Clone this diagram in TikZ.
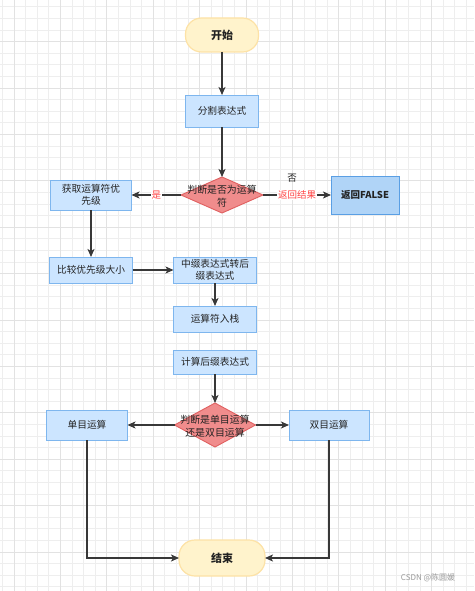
\documentclass[tikz,border=0pt]{standalone}
\usepackage{fontspec}
\newfontfamily\cjk{Noto Sans CJK SC}
\usetikzlibrary{shapes.geometric,arrows.meta}
\definecolor{boxfill}{HTML}{CCE5FF}
\definecolor{boxline}{HTML}{7EB6EE}
\definecolor{retfill}{HTML}{B0D4F7}
\definecolor{retline}{HTML}{5A9FE4}
\definecolor{decfill}{HTML}{F08C8C}
\definecolor{decline}{HTML}{E06060}
\definecolor{termfill}{HTML}{FFF3CC}
\definecolor{termline}{HTML}{FDE2A6}
\definecolor{flow}{HTML}{383838}
\definecolor{flowtext}{HTML}{222222}
\definecolor{yesno}{HTML}{FF4444}
\definecolor{gridminor}{HTML}{EEEEEE}
\definecolor{gridmajor}{HTML}{E2E2E2}
\tikzset{
  procbox/.style={draw=boxline,fill=boxfill,line width=0.9pt,inner sep=1pt,outer sep=0pt,
                  align=center,text=flowtext,font=\cjk\fontsize{9.7}{12}\selectfont},
  retbox/.style={procbox,draw=retline,fill=retfill,font=\cjk\bfseries\fontsize{9.5}{11.5}\selectfont},
  termbox/.style={draw=termline,fill=termfill,line width=1.2pt,rounded corners=16pt,outer sep=0pt,
                  text=flowtext,font=\cjk\bfseries\fontsize{11}{13}\selectfont},
  decbox/.style={diamond,draw=decline,fill=decfill,line width=0.9pt,inner sep=0pt,outer sep=0pt},
  dectext/.style={align=center,text=flowtext,font=\cjk\fontsize{9.9}{12.5}\selectfont},
  flowarrow/.style={draw=flow,line width=1.2pt,-{Stealth[length=8pt,width=7pt,inset=2pt]}},
  edgelab/.style={fill=white,inner sep=1pt,text=yesno,font=\cjk\fontsize{9.5}{11}\selectfont},
}

\begin{document}
\begin{tikzpicture}[x=1pt,y=-1pt]
  \useasboundingbox (0,0) rectangle (474,591);
  \fill[white] (0,0) rectangle (474,591);
  % ===== background grid =====
  \foreach \i in {0,...,40} \draw[gridminor,line width=0.6pt] (2.3+11.6*\i,0)--(2.3+11.6*\i,591);
  \foreach \i in {0,...,50} \draw[gridminor,line width=0.6pt] (0,6.7+11.6*\i)--(474,6.7+11.6*\i);
  \foreach \i in {0,...,9} \draw[gridmajor,line width=0.6pt] (13.9+46.4*\i,0)--(13.9+46.4*\i,591);
  \foreach \i in {0,...,11} \draw[gridmajor,line width=0.6pt] (0,41.5+46.4*\i)--(474,41.5+46.4*\i);

  % ===== top column =====
  \node[termbox,minimum width=73pt,minimum height=34pt] (start) at (222,35){开始};
  \node[procbox,minimum width=73pt,minimum height=32pt] (split) at (222,111){分割表达式};
  \node[decbox,minimum width=82pt,minimum height=36pt] (isop) at (222,195){};
  \node[dectext] (isoptext) at (222,196){判断是否为运算\\符};
  \node[procbox,minimum width=81pt,minimum height=30pt] (prio) at (91,195){获取运算符优\\先级};
  \node[retbox,minimum width=68pt,minimum height=38pt] (retfalse) at (365,195){返回FALSE};

  % ===== middle rows =====
  \node[procbox,minimum width=83pt,minimum height=26pt] (cmp) at (91,270){比较优先级大小};
  \node[procbox,minimum width=83pt,minimum height=26pt] (infix) at (215,270){中缀表达式转后\\缀表达式};
  \node[procbox,minimum width=83pt,minimum height=26pt] (push) at (215,319){运算符入栈};
  \node[procbox,minimum width=83pt,minimum height=24pt] (calc) at (215,362){计算后缀表达式};
  \node[decbox,minimum width=81pt,minimum height=44pt] (kind) at (215,425){};
  \node[dectext] (kindtext) at (215,426){判断是单目运算\\还是双目运算};
  \node[procbox,minimum width=81pt,minimum height=30pt] (unary) at (87,425){单目运算};
  \node[procbox,minimum width=80pt,minimum height=30pt] (binary) at (329,425){双目运算};
  \node[termbox,minimum width=86pt,minimum height=36pt] (end) at (222,558){结束};

  % ===== connectors =====
  \draw[flowarrow] (start)--(split);
  \draw[flowarrow] (split)--(isop);
  \draw[flowarrow] (isop.west)--node[edgelab] (yes){是} (prio.east);
  \draw[flowarrow] (isop.east)--node[edgelab] (ret){返回结果} (retfalse.west);
  \node[text=flowtext,font=\cjk\fontsize{9.5}{11}\selectfont] (no) at (292,178){否};
  \draw[flowarrow] (prio)--(cmp);
  \draw[flowarrow] (cmp)--(infix);
  \draw[flowarrow] (infix)--(push);
  \draw[flowarrow] (calc)--(kind);
  \draw[flowarrow] (kind.west)--(unary.east);
  \draw[flowarrow] (kind.east)--(binary.west);
  \draw[flowarrow] (unary.south)|-(end.west);
  \draw[flowarrow] (binary.south)|-(end.east);

  \node[text=black!40,font=\cjk\fontsize{8}{10}\selectfont] (mark) at (428,578){CSDN @陈圆媛};
\end{tikzpicture}
\end{document}
